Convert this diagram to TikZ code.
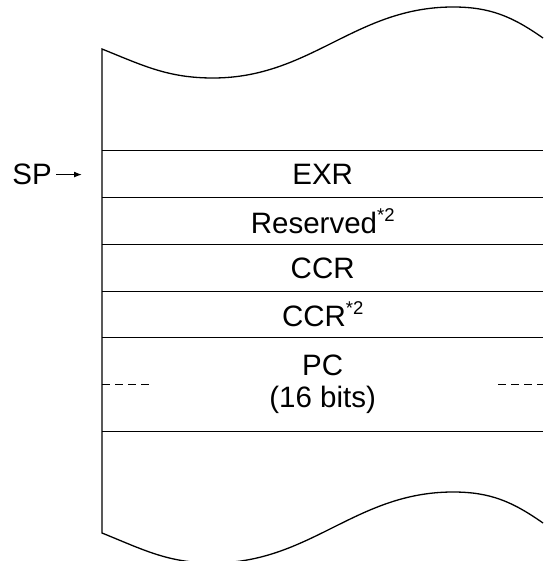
\documentclass[tikz,border=0pt]{standalone}
\usepackage{fontspec}
\setmainfont{Liberation Sans}
\usepackage{tikz}
\usetikzlibrary{positioning,matrix,arrows.meta}

\newcommand{\footmark}[1]{\raisebox{12pt}{\fontsize{18.5}{20}\selectfont #1}}
\newcommand{\pctext}{\begin{tabular}{@{}c@{}}PC\\(16 bits)\end{tabular}}

\tikzset{
    outline/.style={line width=1.3pt},
    row line/.style={line width=1pt},
    split line/.style={line width=1pt, dash pattern=on 8pt off 5pt}
}

\begin{document}
\begin{tikzpicture}[x=1pt, y=1pt, font=\fontsize{29.5}{32}\selectfont]
\useasboundingbox (0,0) rectangle (543,-561);

\matrix (stack) [
    matrix of nodes,
    anchor=north west,
    inner sep=0pt,
    row sep=0pt,
    nodes={
        anchor=center,
        minimum height=46.7pt,
        minimum width=441pt,
        inner sep=0pt
    },
    row 5/.style={nodes={minimum height=93.4pt}}
] at (102,-151) {
    EXR \\
    Reserved\footmark{*2} \\
    CCR \\
    CCR\footmark{*2} \\
    \pctext \\
};

% torn outline
\draw[outline] (543,-38) to[out=145,in=0] (453,-7) to[out=180,in=0] (213,-78)
    to[out=180,in=-22] (102,-49) -- (102,-533)
    to[out=-22,in=180] (213,-563) to[out=0,in=180] (453,-492) to[out=0,in=145] (543,-523);

\draw[row line] (stack-1-1.north west) -- (stack-1-1.north east);
\draw[row line] (stack-2-1.north west) -- (stack-2-1.north east);
\draw[row line] (stack-3-1.north west) -- (stack-3-1.north east);
\draw[row line] (stack-4-1.north west) -- (stack-4-1.north east);
\draw[row line] (stack-5-1.north west) -- (stack-5-1.north east);
\draw[row line] (stack-5-1.south west) -- (stack-5-1.south east);

\coordinate[right=47pt of stack-5-1.west] (splitL);
\coordinate[left=45pt of stack-5-1.east] (splitR);
\draw[split line] (stack-5-1.west) -- (splitL);
\draw[split line] (splitR) -- (stack-5-1.east);

\coordinate[left=20pt of stack-1-1.west] (sptip);
\node (sp) [left=26pt of sptip, inner sep=4pt] {SP};
\draw[outline, -{Latex[length=8pt,width=6pt]}] (sp.east) -- (sptip);
\end{tikzpicture}
\end{document}
